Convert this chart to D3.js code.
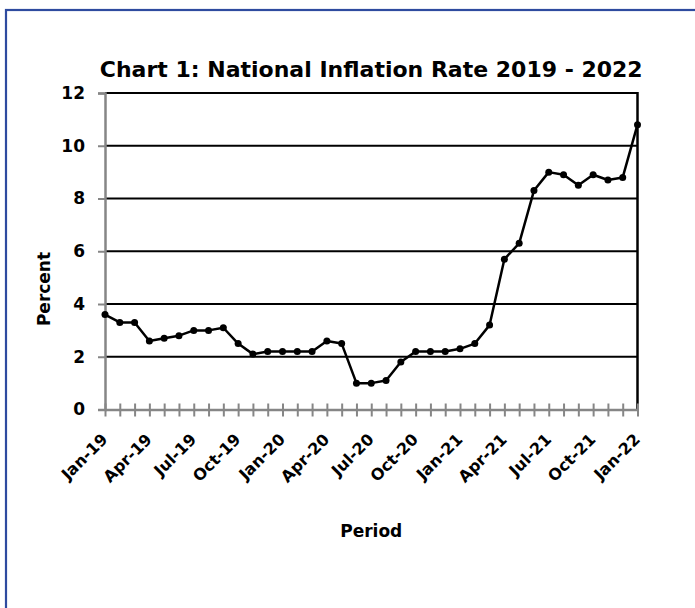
<!DOCTYPE html>
<html>
<head>
<meta charset="utf-8">
<script src="https://cdn.jsdelivr.net/npm/d3@7"></script>
<style>
  body { margin: 0; background: #fff; }
  text { font-family: "DejaVu Sans", sans-serif; font-weight: bold; fill: #000; }
</style>
</head>
<body>
<div id="chart"></div>
<script>
// DATA
const periods = [
  "Jan-19", "Feb-19", "Mar-19", "Apr-19", "May-19", "Jun-19", "Jul-19", "Aug-19", "Sep-19", "Oct-19", "Nov-19", "Dec-19",
  "Jan-20", "Feb-20", "Mar-20", "Apr-20", "May-20", "Jun-20", "Jul-20", "Aug-20", "Sep-20", "Oct-20", "Nov-20", "Dec-20",
  "Jan-21", "Feb-21", "Mar-21", "Apr-21", "May-21", "Jun-21", "Jul-21", "Aug-21", "Sep-21", "Oct-21", "Nov-21", "Dec-21",
  "Jan-22"
];
const inflation = [
  3.6, 3.3, 3.3, 2.6, 2.7, 2.8, 3.0, 3.0, 3.1, 2.5, 2.1, 2.2,
  2.2, 2.2, 2.2, 2.6, 2.5, 1.0, 1.0, 1.1, 1.8, 2.2, 2.2, 2.2,
  2.3, 2.5, 3.2, 5.7, 6.3, 8.3, 9.0, 8.9, 8.5, 8.9, 8.7, 8.8,
  10.8
];
const yTicks = [0, 2, 4, 6, 8, 10, 12];
const labelEvery = 3;

// CONSTANTS
const width = 695, height = 608,
  margin = { top: 93, right: 57.5, bottom: 198, left: 105 };

const svg = d3.select("#chart")
  .append("svg")
  .attr("width", width)
  .attr("height", height);

// outer frame (right and bottom edges fall outside the picture)
svg.append("rect")
  .attr("x", 6)
  .attr("y", 10)
  .attr("width", 720)
  .attr("height", 700)
  .attr("fill", "none")
  .attr("stroke", "#2E4B9F")
  .attr("stroke-width", 2.2);

const x = d3.scalePoint()
  .domain(periods)
  .range([margin.left, width - margin.right]);

const y = d3.scaleLinear()
  .domain([0, 12])
  .range([height - margin.bottom - 0.5, margin.top]);

// gridlines
svg.selectAll("line.grid")
  .data(yTicks.filter(d => d > 0))
  .join("line")
  .attr("class", "grid")
  .attr("x1", margin.left)
  .attr("x2", width - margin.right)
  .attr("y1", d => y(d))
  .attr("y2", d => y(d))
  .attr("stroke", "#000")
  .attr("stroke-width", 2.2);

// right plot border
svg.append("line")
  .attr("x1", width - margin.right)
  .attr("x2", width - margin.right)
  .attr("y1", y(12) - 1)
  .attr("y2", y(0))
  .attr("stroke", "#000")
  .attr("stroke-width", 2.5);

// y axis
const yAxis = svg.append("g")
  .attr("transform", `translate(${margin.left},0)`)
  .call(d3.axisLeft(y).tickValues(yTicks).tickSize(7).tickPadding(13));
yAxis.select(".domain").attr("stroke", "#868686").attr("stroke-width", 2.5);
yAxis.selectAll(".tick line").attr("stroke", "#868686").attr("stroke-width", 2);
yAxis.selectAll(".tick text")
  .style("font-size", "17px")
  .style("font-family", "'DejaVu Sans', sans-serif")
  .style("font-weight", "bold")
  .attr("fill", "#000");

// x axis
const xAxis = svg.append("g")
  .attr("transform", `translate(0,${y(0)})`)
  .call(d3.axisBottom(x)
    .tickSizeOuter(0)
    .tickFormat((d, i) => i % labelEvery === 0 ? d : ""));
xAxis.select(".domain").attr("stroke", "#868686").attr("stroke-width", 2.5);
xAxis.selectAll(".tick line")
  .attr("y1", -6)
  .attr("y2", 7)
  .attr("stroke", "#868686")
  .attr("stroke-width", 2);
xAxis.selectAll(".tick text")
  .attr("x", 0)
  .attr("y", 0)
  .attr("dy", 0)
  .attr("transform", "translate(3,31) rotate(-45)")
  .style("text-anchor", "end")
  .style("font-size", "16px")
  .style("font-family", "'DejaVu Sans', sans-serif")
  .style("font-weight", "bold")
  .attr("fill", "#000");

// series line + markers
const line = d3.line()
  .x((d, i) => x(periods[i]))
  .y(d => y(d));

svg.append("path")
  .datum(inflation)
  .attr("fill", "none")
  .attr("stroke", "#000")
  .attr("stroke-width", 2.5)
  .attr("stroke-linejoin", "round")
  .attr("d", line);

svg.selectAll("circle.marker")
  .data(inflation)
  .join("circle")
  .attr("class", "marker")
  .attr("cx", (d, i) => x(periods[i]))
  .attr("cy", d => y(d))
  .attr("r", 3.5)
  .attr("fill", "#000");

// titles
svg.append("text")
  .attr("x", (margin.left + width - margin.right) / 2)
  .attr("y", 77)
  .attr("text-anchor", "middle")
  .style("font-size", "22px")
  .text("Chart 1: National Inflation Rate 2019 - 2022");

svg.append("text")
  .attr("transform", "translate(50,289) rotate(-90)")
  .attr("text-anchor", "middle")
  .style("font-size", "17px")
  .text("Percent");

svg.append("text")
  .attr("x", (margin.left + width - margin.right) / 2)
  .attr("y", 537)
  .attr("text-anchor", "middle")
  .style("font-size", "17px")
  .text("Period");
</script>
</body>
</html>
